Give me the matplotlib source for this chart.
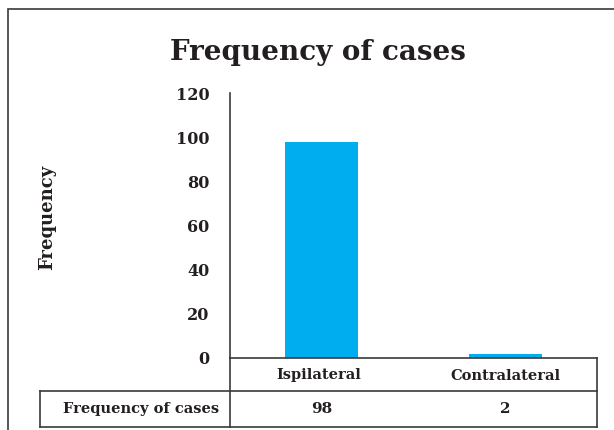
import matplotlib
matplotlib.use("Agg")
import matplotlib.pyplot as plt
from matplotlib.lines import Line2D
from matplotlib.patches import Rectangle

categories = ["Ispilateral", "Contralateral"]
values = [98, 2]
yticks = [0, 20, 40, 60, 80, 100, 120]
title = "Frequency of cases"
ylabel = "Frequency"
row_label = "Frequency of cases"

W, H = 614, 430
plt.rcParams['font.family'] = ['DejaVu Serif']
txt = '#231f20'
line_c = '#3a3a3a'

fig = plt.figure(figsize=(W / 100, H / 100), dpi=100)

def fx(x):
    return x / W

def fy(y):
    return 1 - y / H

# outer frame
fig.add_artist(Rectangle((fx(8), fy(440)), fx(620) - fx(8), fy(9) - fy(440),
                         transform=fig.transFigure, fill=False, ec=line_c, lw=1.2))

ax_l, ax_r, ax_t, ax_b = 230, 597, 93, 358
ax = fig.add_axes([fx(ax_l), fy(ax_b), fx(ax_r) - fx(ax_l), fy(ax_t) - fy(ax_b)])
x = list(range(len(categories)))
ax.bar(x, values, width=0.4, color='#00aeef')
ax.set_xlim(-0.5, len(categories) - 0.5)
ax.set_ylim(0, 120)
ax.set_yticks(yticks)
ax.set_yticklabels([str(v) for v in yticks], fontsize=11.5, fontweight='bold', color=txt)
ax.tick_params(axis='y', length=0, pad=15)
ax.set_xticks([])
for s in ['top', 'right', 'bottom']:
    ax.spines[s].set_visible(False)
ax.spines['left'].set_color(line_c)
ax.spines['left'].set_linewidth(1.2)
ax.patch.set_alpha(0)

fig.text(fx(318), fy(52), title, ha='center', va='center', fontsize=20,
         fontweight='bold', color=txt)
fig.text(fx(47), fy(217), ylabel, ha='center', va='center', rotation=90,
         fontsize=13, fontweight='bold', color=txt)

# table lines
tl, tdiv, tr = 40, 230, 597
r0, r1, r2 = 358, 391, 427
def hline(xa, xb, y):
    fig.add_artist(Line2D([fx(xa), fx(xb)], [fy(y), fy(y)], transform=fig.transFigure,
                          color=line_c, lw=1.2))
def vline(xx, ya, yb):
    fig.add_artist(Line2D([fx(xx), fx(xx)], [fy(ya), fy(yb)], transform=fig.transFigure,
                          color=line_c, lw=1.2))
hline(tdiv, tr, r0)
hline(tl, tr, r1)
hline(tl, tr, r2)
vline(tdiv, r0, r2)
vline(tr, r0, r2)
vline(tl, r1, r2)

for i, (c, v) in enumerate(zip(categories, values)):
    xc = ax.transData.transform((i, 0))[0] / W
    fig.text(xc - fx(3) * (i == 0), fy((r0 + r1) / 2 + 1), c, ha='center', va='center',
             fontsize=10.5, fontweight='bold', color=txt)
    fig.text(xc, fy((r1 + r2) / 2), str(v), ha='center', va='center', fontsize=11,
             fontweight='bold', color=txt)
fig.text(fx(219), fy((r1 + r2) / 2), row_label, ha='right', va='center', fontsize=10.5,
         fontweight='bold', color=txt)

fig.savefig("out.png", dpi=100)
